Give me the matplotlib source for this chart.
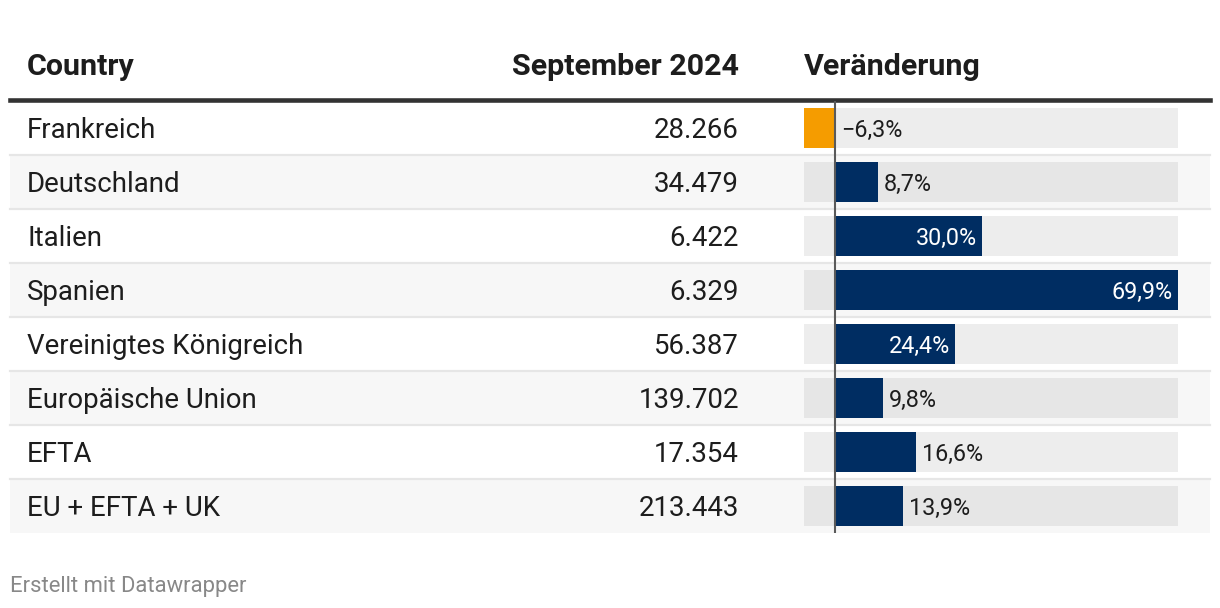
import matplotlib.pyplot as plt
from matplotlib.transforms import offset_copy

plt.rcParams['font.family'] = ['Roboto', 'DejaVu Sans']

# data
countries = ["Frankreich", "Deutschland", "Italien", "Spanien",
             "Vereinigtes Königreich", "Europäische Union", "EFTA", "EU + EFTA + UK"]
sept_2024 = ["28.266", "34.479", "6.422", "6.329", "56.387", "139.702", "17.354", "213.443"]
change = [-6.3, 8.7, 30.0, 69.9, 24.4, 9.8, 16.6, 13.9]
headers = ["Country", "September 2024", "Veränderung"]

W, H = 1220, 608
fig = plt.figure(figsize=(W / 100, H / 100), dpi=100)

# page axes in pixel units
pg = fig.add_axes([0, 0, 1, 1])
pg.set_xlim(0, W)
pg.set_ylim(H, 0)
pg.axis('off')

top, row_h = 101, 54
n = len(countries)
txt = '#1d1d1d'
body_fs, head_fs = 19.9, 21.9

# striped rows
for i in range(n):
    y0 = top + i * row_h
    if i % 2 == 1:
        pg.fill_between([10, 1210], y0, y0 + row_h, color='#f7f7f7', lw=0, zorder=0)
    if i < n - 1:
        pg.plot([10, 1210], [y0 + row_h, y0 + row_h], color='#e6e6e6', lw=1.6, zorder=1)
    yc = y0 + row_h / 2
    pg.text(27, yc, countries[i], ha='left', va='center_baseline', fontsize=body_fs, color=txt)
    pg.text(739, yc, sept_2024[i], ha='right', va='center_baseline', fontsize=body_fs, color=txt)

# header
pg.text(27, 64, headers[0], ha='left', va='center_baseline', fontsize=head_fs, fontweight='bold', color=txt)
pg.text(739, 64, headers[1], ha='right', va='center_baseline', fontsize=head_fs, fontweight='bold', color=txt)
pg.text(804, 64, headers[2], ha='left', va='center_baseline', fontsize=head_fs, fontweight='bold', color=txt)
pg.plot([10, 1210], [top - 1.5, top - 1.5], color='#333333', lw=3.3, zorder=3)

pg.text(10, 584, "Erstellt mit Datawrapper", ha='left', va='center_baseline', fontsize=15.8, color='#888888')

# bar column axes
lo, hi = min(change), max(change)
bx0, bx1 = 804, 1178
ax = fig.add_axes([bx0 / W, 1 - (top + n * row_h) / H, (bx1 - bx0) / W, n * row_h / H])
ax.set_xlim(lo, hi)
ax.set_ylim(n - 0.5, -0.5)
ax.axis('off')
ax.patch.set_alpha(0)

rows = list(range(n))
bg_cols = ['#ededed' if i % 2 == 0 else '#e6e6e6' for i in rows]
ax.barh(rows, [hi - lo] * n, left=lo, height=0.74, color=bg_cols, zorder=1)
cols = ['#f59c00' if v < 0 else '#002d62' for v in change]
ax.barh(rows, change, left=0, height=0.74, color=cols, zorder=2)
ax.axvline(0, ymin=0, ymax=1, color='#5a5a5a', lw=1.5, zorder=3)

inside = offset_copy(ax.transData, fig=fig, x=-5, y=0, units='dots')
outside = offset_copy(ax.transData, fig=fig, x=6, y=0, units='dots')
for i, v in enumerate(change):
    lab = f"{v:.1f}%".replace('.', ',').replace('-', '\u2212')
    if v > 20:
        ax.text(v, i, lab, transform=inside, ha='right', va='center_baseline',
                fontsize=16.8, color='white', zorder=4)
    else:
        ax.text(max(v, 0), i, lab, transform=outside, ha='left', va='center_baseline',
                fontsize=16.8, color=txt, zorder=4)

fig.savefig('out.png', dpi=100)
